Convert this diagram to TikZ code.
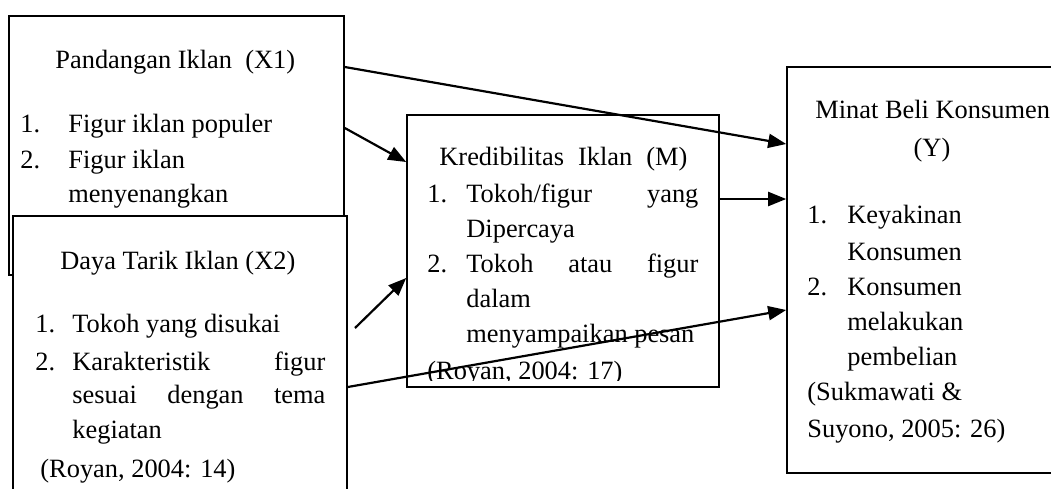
\documentclass[tikz,border=0pt]{standalone}
\usepackage{fontspec}
\setmainfont{Liberation Serif}
\usetikzlibrary{arrows.meta,fit}
\begin{document}
\begin{tikzpicture}[x=0.5pt,y=-0.5pt,
  box/.style={draw, line width=0.8pt, fill=white, inner sep=0pt},
  txt/.style={anchor=base west, inner sep=0pt, font=\fontsize{13.2}{16}\selectfont},
  arr/.style={line width=1.1pt, -{Triangle[length=9pt,width=7pt]}}]
\useasboundingbox (0,0) rectangle (1051,488);
\clip (0,0) rectangle (1051,488);
% X1 box
\node[box, fit={(9,16) (344,275)}] (x1) {};
\node[txt] (x1t) at (55,68) {Pandangan Iklan\enspace(X1)};
\node[txt] (x1n1) at (20,132) {1.};
\node[txt] (x1a) at (68,132) {Figur iklan populer};
\node[txt] (x1n2) at (20,168) {2.};
\node[txt] (x1b) at (68,168) {Figur iklan};
\node[txt] (x1c) at (68,202) {menyenangkan};
% X2 box
\node[box, fit={(13,216) (347,520)}] (x2) {};
\node[txt] (x2t) at (60,269) {Daya Tarik Iklan (X2)};
\node[txt] (x2n1) at (35,332) {1.};
\node[txt] (x2a) at (72,332) {Tokoh yang disukai};
\node[txt] (x2n2) at (35,370) {2.};
\node[txt] (x2b) at (72,370) {\makebox[126.5pt][s]{Karakteristik figur}};
\node[txt] (x2c) at (72,403) {\makebox[126.5pt][s]{sesuai dengan tema}};
\node[txt] (x2d) at (72,438) {kegiatan};
\node[txt] (x2r) at (40,477) {(Royan, 2004: 14)};
% M box
\node[box, fit={(407,115) (719,387)}] (m) {};
\node[txt] (mt) at (439,165) {\makebox[124pt][s]{Kredibilitas Iklan (M)}};
\node[txt] (mn1) at (427,202) {1.};
\node[txt] (ma) at (466,202) {\makebox[116pt][s]{Tokoh/figur yang}};
\node[txt] (mb) at (466,237) {Dipercaya};
\node[txt] (mn2) at (427,272) {2.};
\node[txt] (mc) at (466,272) {\makebox[116pt][s]{Tokoh atau figur}};
\node[txt] (md) at (466,307) {dalam};
\node[txt] (me) at (466,342) {menyampaikan pesan};
\begin{scope}
  \clip (407,115) rectangle (719,380.5);
  \node[txt] (mr) at (427,379.5) {(Royan, 2004: 17)};
\end{scope}
% Y box
\node[box, fit={(787,67) (1080,473)}] (y) {};
\node[txt] (yt) at (815,118) {Minat Beli Konsumen};
\node[txt, anchor=base] (yt2) at (932,156) {(Y)};
\node[txt] (yn1) at (807,223) {1.};
\node[txt] (ya) at (847,223) {Keyakinan};
\node[txt] (yb) at (847,260) {Konsumen};
\node[txt] (yn2) at (807,295) {2.};
\node[txt] (yc) at (847,295) {Konsumen};
\node[txt] (yd) at (847,330) {melakukan};
\node[txt] (ye) at (847,365) {pembelian};
\node[txt] (yf) at (807,400) {(Sukmawati \&};
\node[txt] (yg) at (807,437) {Suyono, 2005: 26)};
% arrows
\coordinate (a3s) at (355,328);
\draw[arr] (x1.east |- 0,67) -- (y.west |- 0,144);
\draw[arr] (x1.east |- 0,128) -- (m.west |- 0,162);
\draw[arr] (a3s) -- (m.west |- 0,278);
\draw[arr] (m.east |- 0,199) -- (y.west |- 0,199);
\draw[arr] (x2.east |- 0,387) -- (y.west |- 0,310);
\end{tikzpicture}
\end{document}
